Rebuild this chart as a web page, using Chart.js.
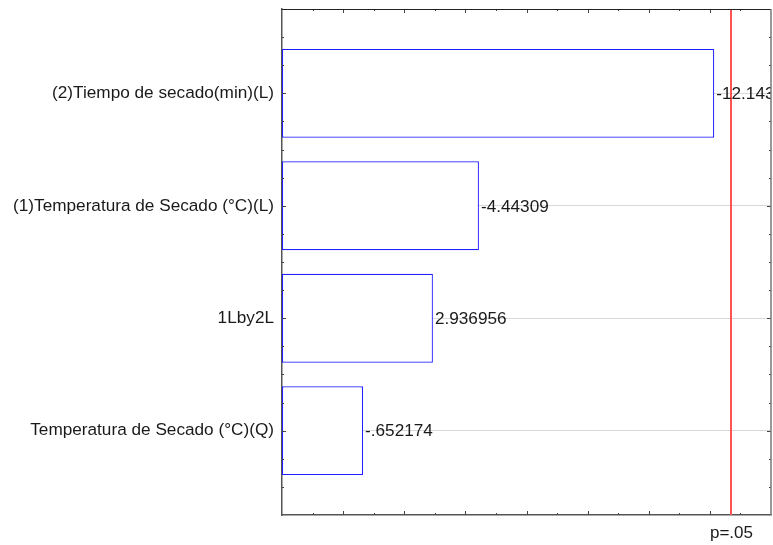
<!DOCTYPE html>
<html>
<head>
<meta charset="utf-8">
<script src="https://cdn.jsdelivr.net/npm/chart.js@4"></script>
<style>
html, body { margin: 0; background: #fff; }
#wrap { width: 773px; height: 545px; }
</style>
</head>
<body>
<div id="wrap"><canvas id="grafico"></canvas></div>
<script>
// Efectos estandarizados (valor absoluto) - diagrama de Pareto
const efectos = [
    "(2)Tiempo de secado(min)(L)",
    "(1)Temperatura de Secado (°C)(L)",
    "1Lby2L",
    "Temperatura de Secado (°C)(Q)",
];
const valores = [12.143, 4.44309, 2.936956, 0.652174];
const etiquetas = ["-12.143", "-4.44309", "2.936956", "-.652174"];
const pCritico = 12.706;
const pEtiqueta = "p=.05";

const X_MIN = -2, X_MAX = 14;
const Y_MIN = -0.75, Y_MAX = 3.75;
const fuente = "'Liberation Sans', Arial, sans-serif";

const grafico = document.getElementById("grafico");

const puntos = valores.map((v, i) => ({ x: v, y: i }));

// línea de p=.05, marco con marcas hacia dentro y etiquetas de valores
const marcoPlugin = {
    id: "marco",
    beforeDatasetsDraw(chart) {
        const { ctx, chartArea: a, scales } = chart;
        const px = Math.round(scales.x.getPixelForValue(pCritico));
        ctx.save();
        ctx.strokeStyle = "#ff5252";
        ctx.lineWidth = 2;
        ctx.beginPath();
        ctx.moveTo(px, a.top);
        ctx.lineTo(px, a.bottom);
        ctx.stroke();
        ctx.restore();
    },
    afterDatasetsDraw(chart) {
        const { ctx, chartArea: a, scales } = chart;
        const meta = chart.getDatasetMeta(0);
        ctx.save();
        ctx.beginPath();
        ctx.rect(a.left, a.top, a.right - a.left, a.bottom - a.top);
        ctx.clip();
        ctx.font = "17.2px " + fuente;
        ctx.fillStyle = "#1a1a1a";
        ctx.textAlign = "left";
        ctx.textBaseline = "middle";
        meta.data.forEach((bar, i) => {
            ctx.fillText(etiquetas[i], bar.x + 2, bar.y + 1);
        });
        ctx.restore();

        ctx.save();
        ctx.strokeStyle = "#444";
        ctx.lineWidth = 1;
        ctx.beginPath();
        for (let v = X_MIN + 1; v < X_MAX; v++) {
            const px = Math.round(scales.x.getPixelForValue(v)) + 0.5;
            const len = v % 2 === 0 ? 4 : 2;
            ctx.moveTo(px, a.top); ctx.lineTo(px, a.top + len);
            ctx.moveTo(px, a.bottom); ctx.lineTo(px, a.bottom - len);
        }
        for (let v = -0.5; v <= 3.5; v += 0.25) {
            const py = Math.round(scales.y.getPixelForValue(v)) + 0.5;
            const len = Number.isInteger(v) ? 4 : 2;
            ctx.moveTo(a.left, py); ctx.lineTo(a.left + len, py);
            ctx.moveTo(a.right, py); ctx.lineTo(a.right - len, py);
        }
        ctx.stroke();
        ctx.beginPath();
        ctx.strokeStyle = "#222";
        ctx.moveTo(a.left, a.top + 0.5); ctx.lineTo(a.right, a.top + 0.5);
        ctx.stroke();
        ctx.beginPath();
        ctx.strokeStyle = "#777";
        ctx.lineWidth = 1.5;
        ctx.moveTo(a.right, a.top); ctx.lineTo(a.right, a.bottom);
        ctx.stroke();
        ctx.restore();
    },
};

new Chart(grafico, {
    type: "bar",
    data: {
        datasets: [{
            data: puntos,
            base: X_MIN,
            backgroundColor: "#ffffff",
            borderColor: "#1f1fff",
            borderWidth: 1.2,
            borderSkipped: false,
            barPercentage: 0.79,
            categoryPercentage: 1,
        }],
    },
    options: {
        indexAxis: "y",
        responsive: true,
        maintainAspectRatio: false,
        animation: false,
        layout: { padding: { top: 9, right: 2, left: 0, bottom: 0 } },
        plugins: {
            legend: { display: false },
            tooltip: { enabled: false },
        },
        scales: {
            x: {
                type: "linear",
                min: X_MIN,
                max: X_MAX,
                afterBuildTicks: (scale) => {
                    scale.ticks = [{ value: pCritico }];
                },
                afterFit: (scale) => {
                    scale.height = 30;
                    scale.paddingLeft = 0;
                    scale.paddingRight = 0;
                },
                ticks: {
                    callback: () => pEtiqueta,
                    font: { size: 17, family: fuente },
                    color: "#1a1a1a",
                    padding: 8,
                    maxRotation: 0,
                },
                grid: { display: false, drawTicks: false },
                border: { display: true, color: "#555", width: 1.5 },
            },
            y: {
                type: "linear",
                reverse: true,
                offset: false,
                min: Y_MIN,
                max: Y_MAX,
                afterBuildTicks: (scale) => {
                    scale.ticks = efectos.map((_, i) => ({ value: i }));
                },
                afterFit: (scale) => {
                    scale.width = 282;
                    scale.paddingTop = 0;
                    scale.paddingBottom = 0;
                },
                ticks: {
                    autoSkip: false,
                    callback: (v) => efectos[v],
                    font: { size: 17.2, family: fuente },
                    color: "#1a1a1a",
                    padding: 8,
                },
                grid: {
                    offset: false,
                    color: "#d8d8d8",
                    lineWidth: 1,
                    drawTicks: false,
                },
                border: { display: true, color: "#555", width: 1.5 },
            },
        },
    },
    plugins: [marcoPlugin],
});
</script>
</body>
</html>
